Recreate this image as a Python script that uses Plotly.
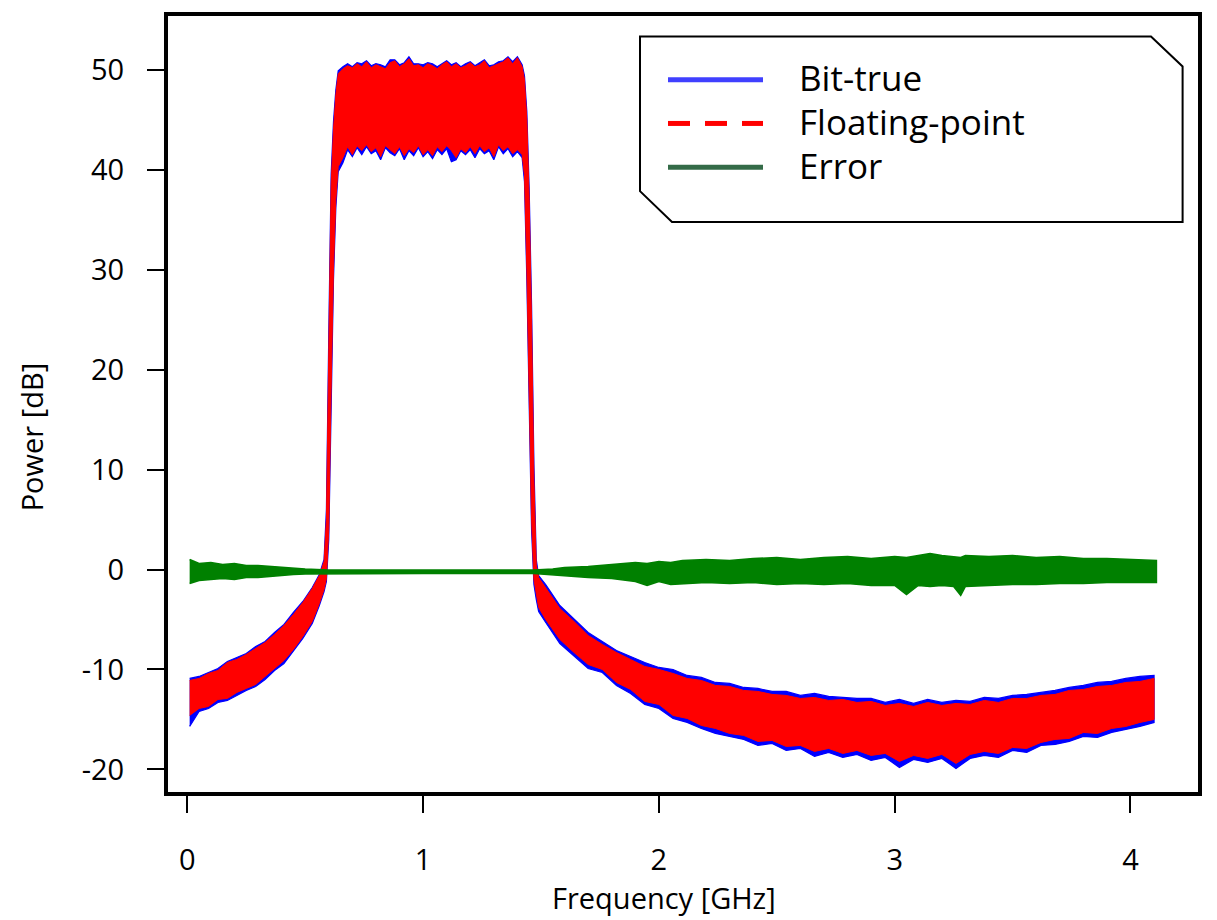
import plotly.graph_objects as go

# frequency grid (GHz) of the spectrum envelopes
freq = [0.01, 0.05, 0.09, 0.13, 0.17, 0.21, 0.25, 0.29, 0.33, 0.37, 0.41, 0.45, 0.49, 0.53, 0.56,
        0.58, 0.59, 0.60, 0.61, 0.62, 0.63, 0.64,
        0.66, 0.68, 0.70, 0.72, 0.74, 0.76, 0.78, 0.80, 0.82, 0.84, 0.86, 0.88, 0.90, 0.92, 0.94,
        0.96, 0.98, 1.00, 1.02, 1.04, 1.06, 1.08, 1.10, 1.12, 1.14, 1.16, 1.18, 1.20, 1.22, 1.24,
        1.26, 1.28, 1.30, 1.32, 1.34, 1.36, 1.38, 1.40, 1.42,
        1.43, 1.44, 1.45, 1.46, 1.47, 1.48, 1.49,
        1.52, 1.58, 1.64, 1.70, 1.76, 1.82, 1.88, 1.94, 2.00, 2.06, 2.12, 2.18, 2.24, 2.30, 2.36,
        2.42, 2.48, 2.54, 2.60, 2.66, 2.72, 2.78, 2.84, 2.90, 2.96, 3.02, 3.08, 3.14, 3.20, 3.26,
        3.32, 3.38, 3.44, 3.50, 3.56, 3.62, 3.68, 3.74, 3.80, 3.86, 3.92, 3.98, 4.04, 4.10]

# floating-point spectrum, upper / lower edge of the noise band (dB)
float_hi = [-11.1, -10.9, -10.4, -10.1, -9.3, -9.0, -8.5, -7.9, -7.3, -6.5, -5.6, -4.5, -3.3, -1.9, -0.6,
            0.8, 5.0, 22.0, 38.5, 44.0, 47.5, 49.6,
            50.1, 50.4, 50.2, 50.6, 50.3, 50.8, 50.2, 50.5, 50.3, 50.1, 50.7, 50.9, 50.3, 50.6, 51.1,
            50.4, 50.5, 50.2, 50.6, 50.4, 50.1, 50.5, 50.8, 50.3, 50.6, 50.2, 50.4, 50.7, 50.3, 50.5,
            50.9, 50.2, 50.4, 50.6, 50.8, 51.2, 50.6, 51.2, 50.3,
            49.0, 45.0, 37.0, 25.0, 9.0, 0.5, -0.8,
            -1.8, -3.9, -5.2, -6.6, -7.5, -8.3, -9.0, -9.7, -10.0, -10.4, -10.9, -11.1, -11.6, -11.7, -12.1,
            -12.2, -12.5, -12.6, -12.9, -12.8, -13.1, -13.0, -13.3, -13.2, -13.6, -13.4, -13.7, -13.3, -13.6, -13.4,
            -13.5, -13.1, -13.3, -12.9, -12.9, -12.6, -12.5, -12.1, -12.0, -11.7, -11.6, -11.3, -11.2, -10.9]
float_lo = [-14.6, -13.9, -13.7, -13.0, -12.9, -12.3, -11.9, -11.5, -10.7, -9.9, -9.1, -8.0, -6.7, -5.2, -3.4,
            -2.0, -0.9, 4.0, 18.0, 30.0, 37.0, 40.3,
            41.2, 42.3, 41.5, 42.4, 41.9, 42.5, 41.8, 42.2, 41.3, 42.4, 42.0, 41.6, 42.3, 41.4, 42.1,
            41.7, 42.4, 41.5, 42.0, 41.4, 42.3, 41.8, 42.4, 41.9, 41.2, 42.1, 41.7, 42.3, 41.6, 42.4,
            41.8, 42.2, 41.3, 42.5, 41.9, 42.3, 41.6, 42.0, 41.5,
            39.5, 30.0, 18.0, 5.0, -1.0, -2.5, -3.8,
            -5.0, -7.0, -8.3, -9.5, -10.0, -11.3, -12.0, -13.2, -13.5, -14.6, -14.9, -15.6, -15.9, -16.4, -16.6,
            -17.2, -17.1, -17.7, -17.6, -18.2, -17.9, -18.4, -18.1, -18.6, -18.4, -19.2, -18.6, -18.9, -18.5, -19.4,
            -18.5, -18.2, -18.4, -17.8, -17.9, -17.3, -17.0, -16.9, -16.3, -16.4, -15.9, -15.7, -15.3, -15.0]

# bit-true spectrum, upper / lower edge of the noise band (dB)
bit_hi = [-10.9, -10.7, -10.3, -9.9, -9.2, -8.8, -8.4, -7.7, -7.2, -6.3, -5.5, -4.3, -3.2, -1.8, -0.5,
          1.0, 6.0, 23.5, 39.5, 44.8, 48.0, 49.9,
          50.3, 50.6, 50.3, 50.7, 50.6, 50.9, 50.4, 50.6, 50.5, 50.3, 51.0, 51.0, 50.5, 50.7, 51.3,
          50.6, 50.6, 50.5, 50.7, 50.6, 50.3, 50.6, 50.9, 50.5, 50.7, 50.3, 50.6, 50.8, 50.4, 50.7,
          51.0, 50.4, 50.5, 50.8, 50.9, 51.3, 50.8, 51.3, 50.5,
          49.4, 45.8, 38.0, 26.5, 10.5, 1.0, -0.6,
          -1.5, -3.6, -4.9, -6.3, -7.2, -8.1, -8.7, -9.3, -9.8, -10.0, -10.6, -10.8, -11.3, -11.4, -11.8,
          -11.9, -12.2, -12.2, -12.6, -12.4, -12.7, -12.8, -12.9, -12.9, -13.3, -13.0, -13.4, -13.0, -13.3, -13.1,
          -13.2, -12.8, -12.9, -12.6, -12.5, -12.3, -12.1, -11.8, -11.6, -11.3, -11.2, -10.9, -10.7, -10.6]
bit_lo = [-15.7, -14.2, -13.9, -13.3, -13.1, -12.6, -12.1, -11.7, -11.0, -10.1, -9.4, -8.2, -6.9, -5.4, -3.6,
          -2.2, -1.2, 3.0, 17.0, 29.0, 36.2, 39.8,
          40.7, 42.0, 41.3, 42.2, 41.5, 42.3, 41.6, 41.9, 41.0, 42.2, 41.7, 41.4, 42.1, 41.0, 41.9,
          41.4, 42.2, 41.3, 41.8, 41.1, 42.0, 41.5, 42.1, 40.8, 41.0, 41.9, 41.5, 42.0, 41.2, 42.1,
          41.6, 41.9, 41.0, 42.3, 41.6, 42.1, 41.3, 41.8, 41.2,
          38.8, 29.0, 17.0, 4.0, -1.5, -3.0, -4.2,
          -5.3, -7.4, -8.6, -9.9, -10.3, -11.6, -12.4, -13.5, -13.9, -14.9, -15.3, -15.9, -16.4, -16.7, -17.0,
          -17.6, -17.4, -18.1, -17.9, -18.7, -18.3, -18.8, -18.5, -19.1, -18.8, -19.8, -19.0, -19.3, -18.9, -19.9,
          -18.9, -18.6, -18.8, -18.1, -18.3, -17.6, -17.5, -17.2, -16.7, -16.8, -16.3, -16.0, -15.7, -15.3]

# error (bit-true minus floating-point), band edges (dB)
err_freq = [0.01, 0.05, 0.10, 0.15, 0.20, 0.25, 0.30, 0.35, 0.40, 0.45, 0.50, 0.55, 0.60, 1.00, 1.47,
            1.55, 1.60, 1.70, 1.80, 1.90, 1.95, 2.00, 2.05, 2.10, 2.20, 2.30, 2.40, 2.50, 2.60, 2.70,
            2.80, 2.90, 3.00, 3.05, 3.10, 3.15, 3.20, 3.25, 3.28, 3.30, 3.40, 3.50, 3.60, 3.70, 3.80,
            3.90, 4.00, 4.11]
err_hi = [1.0, 0.6, 0.7, 0.5, 0.6, 0.4, 0.4, 0.3, 0.2, 0.15, 0.05, 0.0, -0.05, -0.05, -0.05,
          0.05, 0.2, 0.3, 0.5, 0.7, 0.6, 0.8, 0.7, 0.9, 1.0, 0.9, 1.1, 1.2, 1.0, 1.2,
          1.3, 1.1, 1.3, 1.2, 1.4, 1.6, 1.4, 1.3, 1.2, 1.4, 1.3, 1.4, 1.2, 1.3, 1.1,
          1.1, 1.0, 0.9]
err_lo = [-1.4, -1.1, -1.0, -0.9, -1.0, -0.8, -0.8, -0.7, -0.6, -0.5, -0.45, -0.4, -0.4, -0.4, -0.4,
          -0.5, -0.6, -0.8, -0.9, -1.2, -1.6, -1.2, -1.5, -1.4, -1.3, -1.4, -1.3, -1.5, -1.4, -1.5,
          -1.4, -1.6, -1.6, -2.5, -1.6, -1.7, -1.6, -1.7, -2.6, -1.7, -1.6, -1.5, -1.5, -1.4, -1.4,
          -1.3, -1.3, -1.3]

x_ticks = [0, 1, 2, 3, 4]
y_ticks = [-20, -10, 0, 10, 20, 30, 40, 50]
y_tick_labels = ["-20", "-10", "0", "10", "20", "30", "40", "50"]

legend_names = ["Bit-true", "Floating-point", "Error"]
legend_colors = ["#4040ff", "#ff0000", "#346b48"]

FONT = "Open Sans"

# plot area in figure pixels; the page adds an 8px body margin (OFF)
L, R, T, B = 160, 1190, 4, 784
OFF = 8


def px(sx):
    # screen pixel -> paper x
    return (sx - OFF - L) / (R - L)


def py(sy):
    # screen pixel -> paper y
    return (B - (sy - OFF)) / (B - T)


def band(xs, hi, lo):
    # closed outline: upper edge left->right, lower edge right->left
    return list(xs) + list(xs[::-1]), list(hi) + list(lo[::-1])


fig = go.Figure()

bx, by = band(freq, bit_hi, bit_lo)
fig.add_trace(go.Scatter(x=bx, y=by, name="Bit-true", mode="lines", fill="toself",
                         fillcolor="#0000ff", line=dict(color="#0000ff", width=1.2),
                         showlegend=False, hoverinfo="skip"))

fx, fy = band(freq, float_hi, float_lo)
fig.add_trace(go.Scatter(x=fx, y=fy, name="Floating-point", mode="lines", fill="toself",
                         fillcolor="#ff0000", line=dict(color="#ff0000", width=1),
                         showlegend=False, hoverinfo="skip"))

ex, ey = band(err_freq, err_hi, err_lo)
fig.add_trace(go.Scatter(x=ex, y=ey, name="Error", mode="lines", fill="toself",
                         fillcolor="#008000", line=dict(color="#008000", width=1.5),
                         showlegend=False, hoverinfo="skip"))

# legend drawn by hand: box with two clipped corners, long line samples
box = (f"M {px(640)},{py(32.7)} L {px(1151)},{py(32.7)} L {px(1182.6)},{py(62.7)} "
       f"L {px(1182.6)},{py(219)} L {px(672)},{py(219)} L {px(640)},{py(188)} Z")
shapes = [dict(type="path", path=box, xref="paper", yref="paper",
               line=dict(color="black", width=2), fillcolor="white", layer="above")]
annotations = []
for i, name in enumerate(legend_names):
    ly = 76 + 44 * i
    if name == "Floating-point":
        pieces = [(668, 690), (705, 727), (742, 763)]
    else:
        pieces = [(668, 763)]
    for a, b in pieces:
        shapes.append(dict(type="line", xref="paper", yref="paper",
                           x0=px(a), x1=px(b), y0=py(ly), y1=py(ly), layer="above",
                           line=dict(color=legend_colors[i], width=5)))
    annotations.append(dict(text=name, xref="paper", yref="paper", x=px(797), y=py(ly - 2),
                            xanchor="left", yanchor="middle", showarrow=False,
                            font=dict(family=FONT, size=35, color="black")))

# axis titles sit off-centre in the original, so place them as annotations
annotations.append(dict(text="Frequency [GHz]", xref="paper", yref="paper",
                        x=px(663.5), y=py(898), xanchor="center", yanchor="middle",
                        showarrow=False, font=dict(family=FONT, size=29, color="black")))
annotations.append(dict(text="Power [dB]", xref="paper", yref="paper", textangle=-90,
                        x=px(31.5), y=py(436), xanchor="center", yanchor="middle",
                        showarrow=False, font=dict(family=FONT, size=29, color="black")))

fig.update_layout(
    width=1217, height=920,
    margin=dict(l=L, r=1217 - R, t=T, b=920 - B),
    paper_bgcolor="white", plot_bgcolor="white",
    font=dict(family=FONT, size=29, color="black"),
    showlegend=False,
    shapes=shapes,
    annotations=annotations,
    xaxis=dict(range=[-0.0818, 4.2863], tickvals=x_ticks, showgrid=False, zeroline=False,
               showline=True, linewidth=4, linecolor="black", mirror=True,
               ticks="outside", ticklen=17, tickwidth=2, tickcolor="black",
               ticklabelstandoff=22),
    yaxis=dict(range=[-22.259, 55.375], tickvals=y_ticks, ticktext=y_tick_labels,
               showgrid=False, zeroline=False,
               showline=True, linewidth=4, linecolor="black", mirror=True,
               ticks="outside", ticklen=17, tickwidth=2, tickcolor="black",
               ticklabelstandoff=17),
)

fig.write_html("out.html")
